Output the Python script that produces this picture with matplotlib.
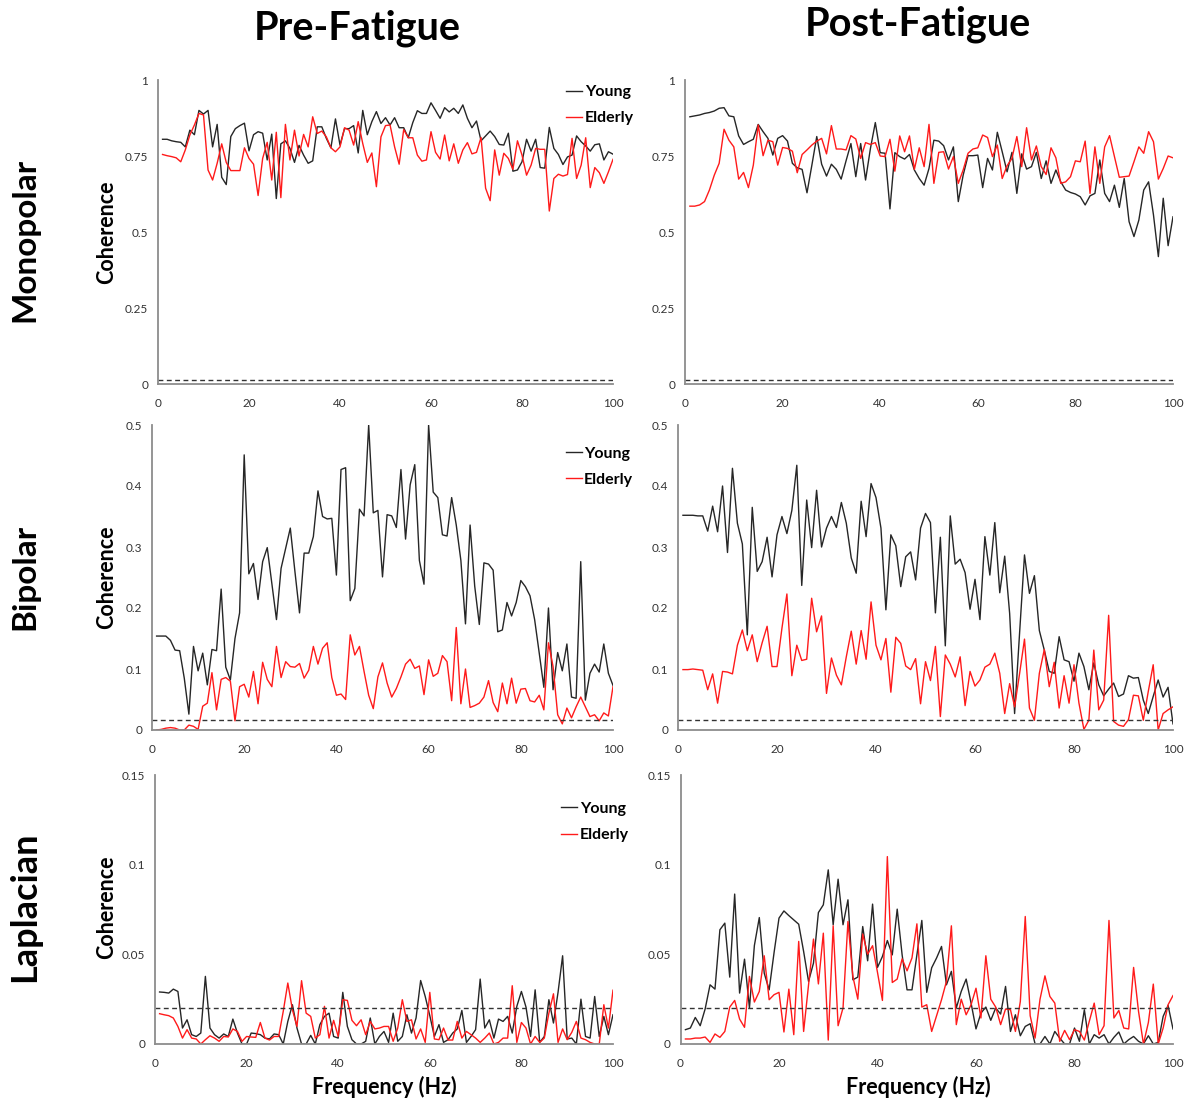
import matplotlib
matplotlib.use("Agg")
import matplotlib.pyplot as plt

plt.rcParams['font.family'] = ['Lato', 'DejaVu Sans']

# frequency axis (Hz)
freqs = list(range(1, 101))

# Monopolar coherence
mono_pre_young = [
    0.805, 0.805, 0.80, 0.797, 0.795, 0.78, 0.835, 0.82, 0.90, 0.888,
    0.90, 0.78, 0.854, 0.68, 0.656, 0.814, 0.84, 0.85, 0.858, 0.767,
    0.82, 0.83, 0.825, 0.737, 0.822, 0.61, 0.79, 0.80, 0.775, 0.729,
    0.785, 0.753, 0.726, 0.734, 0.846, 0.846, 0.808, 0.777, 0.872, 0.786,
    0.84, 0.84, 0.85, 0.76, 0.90, 0.82, 0.863, 0.896, 0.857, 0.876,
    0.852, 0.876, 0.843, 0.843, 0.81, 0.86, 0.899, 0.89, 0.89, 0.925,
    0.90, 0.874, 0.909, 0.895, 0.907, 0.89, 0.918, 0.874, 0.843, 0.865,
    0.80, 0.816, 0.832, 0.814, 0.788, 0.786, 0.825, 0.70, 0.704, 0.731,
    0.805, 0.766, 0.805, 0.712, 0.71, 0.844, 0.775, 0.755, 0.722, 0.747,
    0.753, 0.816, 0.797, 0.783, 0.766, 0.787, 0.79, 0.737, 0.764, 0.756]
mono_pre_elderly = [
    0.755, 0.751, 0.748, 0.744, 0.731, 0.77, 0.819, 0.852, 0.89, 0.885,
    0.704, 0.671, 0.726, 0.79, 0.729, 0.702, 0.702, 0.702, 0.777, 0.742,
    0.723, 0.62, 0.742, 0.795, 0.671, 0.828, 0.613, 0.854, 0.737, 0.835,
    0.75, 0.821, 0.78, 0.879, 0.824, 0.832, 0.813, 0.777, 0.764, 0.78,
    0.843, 0.835, 0.786, 0.863, 0.791, 0.729, 0.76, 0.649, 0.813, 0.85,
    0.852, 0.78, 0.723, 0.837, 0.81, 0.81, 0.753, 0.733, 0.737, 0.83,
    0.762, 0.74, 0.819, 0.734, 0.79, 0.726, 0.77, 0.794, 0.757, 0.762,
    0.811, 0.644, 0.603, 0.77, 0.687, 0.759, 0.742, 0.706, 0.80, 0.753,
    0.687, 0.72, 0.775, 0.772, 0.772, 0.569, 0.676, 0.69, 0.684, 0.689,
    0.808, 0.676, 0.72, 0.81, 0.646, 0.712, 0.695, 0.66, 0.698, 0.739]
mono_post_young = [
    0.879, 0.882, 0.885, 0.890, 0.893, 0.898, 0.907, 0.909, 0.882, 0.879,
    0.816, 0.788, 0.797, 0.805, 0.854, 0.83, 0.808, 0.753, 0.808, 0.817,
    0.799, 0.726, 0.711, 0.706, 0.629, 0.72, 0.814, 0.723, 0.684, 0.723,
    0.706, 0.674, 0.734, 0.791, 0.682, 0.791, 0.671, 0.775, 0.86, 0.761,
    0.759, 0.576, 0.761, 0.748, 0.74, 0.755, 0.704, 0.676, 0.654, 0.709,
    0.802, 0.799, 0.784, 0.737, 0.78, 0.6, 0.687, 0.751, 0.751, 0.753,
    0.646, 0.742, 0.704, 0.828, 0.764, 0.698, 0.762, 0.627, 0.757, 0.707,
    0.715, 0.762, 0.676, 0.734, 0.66, 0.704, 0.665, 0.638, 0.630, 0.625,
    0.616, 0.589, 0.619, 0.627, 0.737, 0.627, 0.6, 0.654, 0.581, 0.676,
    0.534, 0.485, 0.539, 0.638, 0.665, 0.556, 0.419, 0.611, 0.455, 0.55]
mono_post_elderly = [
    0.585, 0.585, 0.589, 0.6, 0.638, 0.687, 0.726, 0.838, 0.802, 0.78,
    0.674, 0.696, 0.646, 0.72, 0.852, 0.751, 0.802, 0.797, 0.72, 0.778,
    0.775, 0.766, 0.695, 0.755, 0.77, 0.786, 0.799, 0.808, 0.757, 0.85,
    0.773, 0.773, 0.77, 0.817, 0.806, 0.742, 0.794, 0.788, 0.794, 0.75,
    0.748, 0.805, 0.70, 0.816, 0.764, 0.816, 0.706, 0.777, 0.715, 0.854,
    0.660, 0.762, 0.764, 0.707, 0.748, 0.660, 0.704, 0.759, 0.773, 0.777,
    0.819, 0.811, 0.748, 0.786, 0.676, 0.718, 0.742, 0.814, 0.715, 0.843,
    0.737, 0.783, 0.715, 0.689, 0.777, 0.744, 0.660, 0.665, 0.682, 0.734,
    0.731, 0.799, 0.627, 0.780, 0.660, 0.780, 0.817, 0.748, 0.680, 0.682,
    0.684, 0.731, 0.780, 0.759, 0.830, 0.797, 0.674, 0.709, 0.750, 0.744]

# Bipolar coherence
bip_pre_young = [
    0.154, 0.154, 0.154, 0.147, 0.131, 0.13, 0.085, 0.026, 0.137, 0.097,
    0.126, 0.074, 0.132, 0.13, 0.231, 0.103, 0.082, 0.15, 0.192, 0.451,
    0.256, 0.273, 0.214, 0.276, 0.299, 0.24, 0.181, 0.265, 0.298, 0.331,
    0.26, 0.192, 0.29, 0.29, 0.317, 0.392, 0.35, 0.346, 0.347, 0.254,
    0.427, 0.43, 0.212, 0.232, 0.362, 0.351, 0.5, 0.356, 0.36, 0.251,
    0.353, 0.351, 0.332, 0.427, 0.313, 0.402, 0.435, 0.278, 0.239, 0.5,
    0.39, 0.381, 0.32, 0.318, 0.381, 0.336, 0.278, 0.174, 0.336, 0.236,
    0.173, 0.274, 0.272, 0.262, 0.161, 0.164, 0.209, 0.187, 0.209, 0.245,
    0.235, 0.22, 0.181, 0.126, 0.07, 0.2, 0.066, 0.127, 0.097, 0.141,
    0.054, 0.052, 0.276, 0.049, 0.093, 0.108, 0.095, 0.141, 0.093, 0.073]
bip_pre_elderly = [
    0.0, 0.001, 0.003, 0.004, 0.003, 0.0, 0.0, 0.008, 0.006, 0.001,
    0.039, 0.044, 0.094, 0.033, 0.083, 0.086, 0.08, 0.015, 0.071, 0.075,
    0.054, 0.096, 0.043, 0.111, 0.083, 0.071, 0.137, 0.086, 0.112, 0.104,
    0.103, 0.109, 0.085, 0.098, 0.137, 0.108, 0.134, 0.143, 0.086, 0.057,
    0.059, 0.05, 0.156, 0.123, 0.137, 0.096, 0.057, 0.035, 0.087, 0.11,
    0.077, 0.054, 0.068, 0.087, 0.108, 0.116, 0.101, 0.105, 0.058, 0.115,
    0.088, 0.093, 0.122, 0.112, 0.048, 0.168, 0.043, 0.1, 0.037, 0.04,
    0.044, 0.054, 0.081, 0.045, 0.03, 0.077, 0.043, 0.085, 0.044, 0.067,
    0.068, 0.048, 0.046, 0.057, 0.033, 0.143, 0.104, 0.025, 0.01, 0.036,
    0.02, 0.038, 0.054, 0.038, 0.022, 0.025, 0.015, 0.028, 0.023, 0.071]
bip_post_young = [
    0.352, 0.352, 0.352, 0.351, 0.351, 0.326, 0.367, 0.325, 0.4, 0.291,
    0.429, 0.339, 0.305, 0.156, 0.365, 0.26, 0.276, 0.316, 0.251, 0.32,
    0.35, 0.322, 0.36, 0.434, 0.237, 0.377, 0.299, 0.393, 0.3, 0.331,
    0.35, 0.332, 0.373, 0.339, 0.282, 0.257, 0.375, 0.317, 0.404, 0.381,
    0.331, 0.197, 0.32, 0.302, 0.235, 0.284, 0.292, 0.246, 0.331, 0.355,
    0.34, 0.192, 0.316, 0.138, 0.351, 0.272, 0.28, 0.258, 0.198, 0.247,
    0.181, 0.317, 0.254, 0.34, 0.225, 0.285, 0.191, 0.027, 0.158, 0.287,
    0.224, 0.253, 0.163, 0.131, 0.096, 0.093, 0.153, 0.115, 0.112, 0.08,
    0.126, 0.104, 0.066, 0.11, 0.074, 0.056, 0.067, 0.077, 0.055, 0.059,
    0.089, 0.085, 0.086, 0.049, 0.027, 0.055, 0.082, 0.054, 0.07, 0.01]
bip_post_elderly = [
    0.099, 0.099, 0.1, 0.099, 0.098, 0.066, 0.092, 0.044, 0.096, 0.095,
    0.092, 0.139, 0.164, 0.13, 0.156, 0.112, 0.143, 0.17, 0.104, 0.104,
    0.167, 0.223, 0.089, 0.139, 0.114, 0.116, 0.216, 0.161, 0.187, 0.06,
    0.118, 0.09, 0.074, 0.12, 0.162, 0.108, 0.163, 0.116, 0.21, 0.139,
    0.115, 0.15, 0.062, 0.152, 0.142, 0.105, 0.099, 0.117, 0.043, 0.112,
    0.081, 0.137, 0.022, 0.123, 0.108, 0.087, 0.12, 0.04, 0.096, 0.072,
    0.082, 0.103, 0.108, 0.126, 0.093, 0.027, 0.076, 0.038, 0.092, 0.149,
    0.036, 0.016, 0.093, 0.132, 0.071, 0.111, 0.036, 0.089, 0.044, 0.107,
    0.044, 0.001, 0.016, 0.131, 0.033, 0.049, 0.188, 0.014, 0.008, 0.006,
    0.017, 0.057, 0.056, 0.016, 0.063, 0.107, 0.0, 0.027, 0.033, 0.038]

# Laplacian coherence
lap_pre_young = [
    0.029, 0.0288, 0.0284, 0.0306, 0.0293, 0.0089, 0.0135, 0.0052, 0.0042, 0.0061,
    0.0377, 0.0089, 0.0052, 0.0033, 0.0056, 0.0042, 0.0139, 0.0061, 0.0, 0.0,
    0.0061, 0.0058, 0.0052, 0.0033, 0.0028, 0.0056, 0.0052, 0.0, 0.0126, 0.0219,
    0.0089, 0.0, 0.0, 0.0048, 0.0, 0.0108, 0.0154, 0.0172, 0.0042, 0.0033,
    0.0288, 0.0098, 0.0024, 0.0, 0.0, 0.0015, 0.0145, 0.0, 0.0042, 0.007,
    0.0009, 0.0172, 0.0015, 0.0042, 0.0163, 0.0061, 0.0145, 0.0354, 0.0265, 0.0158,
    0.0042, 0.0108, 0.0009, 0.0024, 0.0061, 0.0084, 0.0187, 0.0009, 0.0042, 0.008,
    0.0362, 0.0089, 0.0135, 0.0033, 0.0139, 0.0126, 0.0154, 0.0061, 0.021, 0.0293,
    0.0206, 0.0042, 0.0302, 0.0009, 0.0042, 0.0247, 0.0117, 0.0288, 0.0492, 0.0028,
    0.0033, 0.0, 0.025, 0.0042, 0.0033, 0.0265, 0.0042, 0.0154, 0.0052, 0.0163]
lap_pre_elderly = [
    0.0169, 0.0163, 0.0158, 0.0145, 0.0098, 0.0033, 0.008, 0.0033, 0.0028, 0.0,
    0.0024, 0.0046, 0.0033, 0.0015, 0.0042, 0.0039, 0.0084, 0.007, 0.0015, 0.0042,
    0.0039, 0.0037, 0.012, 0.0033, 0.0022, 0.0042, 0.0042, 0.0182, 0.034, 0.0191,
    0.0098, 0.0353, 0.0172, 0.0154, 0.0033, 0.0052, 0.021, 0.0033, 0.0132, 0.0042,
    0.0247, 0.0243, 0.0132, 0.0102, 0.0135, 0.0052, 0.0126, 0.0084, 0.0089, 0.0098,
    0.0098, 0.0015, 0.0089, 0.0247, 0.0126, 0.0135, 0.0028, 0.0084, 0.0009, 0.0288,
    0.0028, 0.0024, 0.0089, 0.0022, 0.0022, 0.0126, 0.0033, 0.007, 0.0052, 0.0033,
    0.0009, 0.0033, 0.0061, 0.0, 0.0009, 0.0033, 0.0033, 0.0325, 0.0009, 0.012,
    0.0089, 0.0, 0.0042, 0.0009, 0.0033, 0.0172, 0.028, 0.0009, 0.0084, 0.0024,
    0.0065, 0.0126, 0.0033, 0.0024, 0.0009, 0.0, 0.0, 0.0219, 0.0089, 0.03]
lap_post_young = [
    0.008, 0.0089, 0.0148, 0.0102, 0.0195, 0.033, 0.0306, 0.0637, 0.0674, 0.0373,
    0.0836, 0.0284, 0.0473, 0.0201, 0.0549, 0.0705, 0.0395, 0.0302, 0.051, 0.0702,
    0.0742, 0.0716, 0.0692, 0.0668, 0.0516, 0.0349, 0.0451, 0.0733, 0.0776, 0.0971,
    0.0665, 0.0919, 0.0665, 0.0804, 0.0358, 0.0373, 0.0655, 0.0464, 0.078, 0.0427,
    0.0488, 0.0577, 0.0497, 0.0752, 0.0497, 0.0302, 0.0302, 0.0497, 0.0689, 0.0288,
    0.0425, 0.048, 0.0544, 0.033, 0.0405, 0.0201, 0.0293, 0.0362, 0.0228, 0.0084,
    0.0172, 0.0206, 0.0132, 0.0201, 0.0167, 0.0321, 0.007, 0.0163, 0.0046, 0.0098,
    0.0113, 0.0, 0.0, 0.0042, 0.0, 0.007, 0.0033, 0.0, 0.0, 0.0089,
    0.0015, 0.0191, 0.0, 0.0052, 0.0033, 0.0052, 0.0, 0.0037, 0.0067, 0.0,
    0.0024, 0.0042, 0.0015, 0.0, 0.0046, 0.0, 0.0009, 0.0154, 0.0215, 0.0084]
lap_post_elderly = [
    0.0028, 0.0028, 0.0033, 0.0033, 0.0039, 0.0009, 0.0056, 0.0037, 0.007, 0.0206,
    0.0243, 0.0139, 0.0093, 0.0377, 0.0234, 0.0293, 0.0492, 0.0247, 0.0275, 0.0288,
    0.0067, 0.0306, 0.0052, 0.0572, 0.007, 0.033, 0.0585, 0.0335, 0.0618, 0.0022,
    0.0659, 0.0102, 0.0201, 0.0683, 0.0377, 0.025, 0.0613, 0.0501, 0.0548, 0.0399,
    0.0243, 0.1045, 0.0343, 0.0362, 0.0475, 0.0408, 0.048, 0.067, 0.0206, 0.0219,
    0.007, 0.0158, 0.0247, 0.0349, 0.0659, 0.0108, 0.025, 0.0163, 0.0219, 0.0311,
    0.0145, 0.0492, 0.025, 0.0206, 0.0108, 0.0195, 0.0191, 0.007, 0.0237, 0.0711,
    0.0158, 0.0033, 0.025, 0.038, 0.0265, 0.0228, 0.0015, 0.0076, 0.0024, 0.008,
    0.007, 0.0022, 0.0126, 0.0228, 0.0052, 0.0102, 0.0689, 0.0145, 0.0187, 0.0089,
    0.0084, 0.0427, 0.0182, 0.0, 0.012, 0.0334, 0.0, 0.0089, 0.0219, 0.027]

# significance levels (dashed lines)
thresholds = [0.013, 0.016, 0.02]

row_names = ['Monopolar', 'Bipolar', 'Laplacian']
col_names = ['Pre-Fatigue', 'Post-Fatigue']
y_ticks = [[0, 0.25, 0.5, 0.75, 1], [0, 0.1, 0.2, 0.3, 0.4, 0.5], [0, 0.05, 0.1, 0.15]]
y_labels = [['0', '0.25', '0.5', '0.75', '1'],
            ['0', '0.1', '0.2', '0.3', '0.4', '0.5'],
            ['0', '0.05', '0.1', '0.15']]
x_ticks = [0, 20, 40, 60, 80, 100]

data = [
    [(mono_pre_young, mono_pre_elderly), (mono_post_young, mono_post_elderly)],
    [(bip_pre_young, bip_pre_elderly), (bip_post_young, bip_post_elderly)],
    [(lap_pre_young, lap_pre_elderly), (lap_post_young, lap_post_elderly)],
]

W, H = 1187, 1099
fig = plt.figure(figsize=(W / 100, H / 100), dpi=100)

# panel boxes in pixels: (left, right, top, bottom)
boxes = [
    [(158, 613, 80, 384), (685, 1173, 80, 384)],
    [(152, 613, 425, 730), (678, 1173, 425, 730)],
    [(155, 613, 775, 1044), (680.5, 1173, 775, 1044)],
]
legend_pos = [(0.88, 1.01), (0.88, 0.955), (0.87, 0.93)]

grey = '#8c8c8c'
for r in range(3):
    for c in range(2):
        l, rr, t, b = boxes[r][c]
        ax = fig.add_axes([l / W, 1 - b / H, (rr - l) / W, (b - t) / H])
        young, elderly = data[r][c]
        ax.plot(freqs, young, color='#262626', lw=1.0, label='Young')
        ax.plot(freqs, elderly, color='#ff1a1a', lw=1.0, label='Elderly')
        ax.axhline(thresholds[r], color='#333333', lw=1.0, ls=(0, (3.5, 2.5)))
        ax.set_xlim(0, 100)
        ax.set_ylim(0, y_ticks[r][-1])
        ax.set_xticks(x_ticks)
        ax.set_yticks(y_ticks[r])
        ax.set_yticklabels(y_labels[r])
        ax.tick_params(length=0, labelsize=8.5, colors='#333333', pad=7)
        ax.tick_params(axis='x', pad=10)
        for s in ['top', 'right']:
            ax.spines[s].set_visible(False)
        for s in ['left', 'bottom']:
            ax.spines[s].set_color(grey)
            ax.spines[s].set_linewidth(1.3)
        if c == 0:
            ax.legend(loc='upper left', bbox_to_anchor=legend_pos[r], frameon=False,
                      handlelength=1.0, handletextpad=0.15, labelspacing=0.75,
                      borderpad=0, prop={'weight': 'bold', 'size': 11.5})
    # row labels and y labels
    yc = [240, 577, 907][r]
    fig.text(25 / W, 1 - yc / H, row_names[r], rotation=90, fontsize=[24, 24, 26][r],
             fontweight='bold', ha='center', va='center')
    fig.text(107 / W, 1 - [232, 577, 907][r] / H, 'Coherence', rotation=90, fontsize=15.5,
             fontweight='bold', ha='center', va='center')

fig.text(357 / W, 1 - 28 / H, col_names[0], fontsize=28.5, fontweight='bold', ha='center', va='center')
fig.text(918 / W, 1 - 24 / H, col_names[1], fontsize=28.5, fontweight='bold', ha='center', va='center')
fig.text(384 / W, 1 - 1087 / H, 'Frequency (Hz)', fontsize=15.5, fontweight='bold', ha='center', va='center')
fig.text(918 / W, 1 - 1087 / H, 'Frequency (Hz)', fontsize=15.5, fontweight='bold', ha='center', va='center')

fig.savefig('out.png', dpi=100)
